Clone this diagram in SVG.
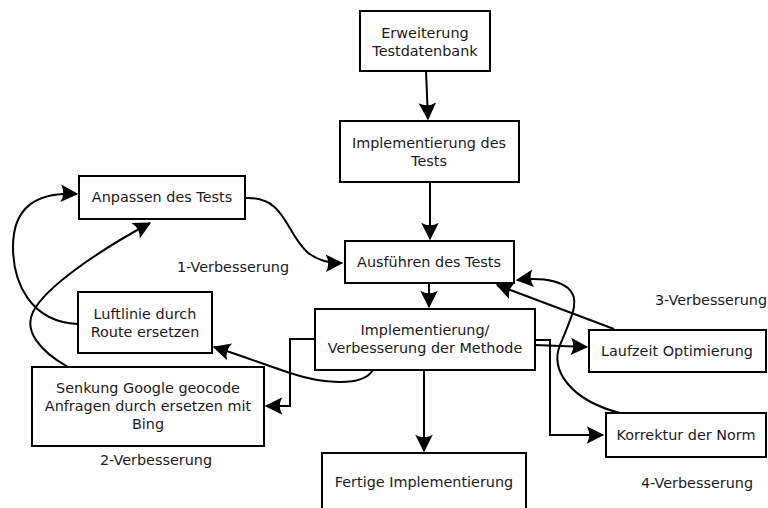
<svg xmlns="http://www.w3.org/2000/svg" width="768" height="508" viewBox="0 0 768 508">
  <style>
    .box rect { fill: #ffffff; stroke: #000000; stroke-width: 2; }
    text { font-family: "DejaVu Sans", "Liberation Sans", sans-serif; font-size: 14.4px; fill: #1a1a1a; text-anchor: middle; }
    .edge { fill: none; stroke: #000000; stroke-width: 2; marker-end: url(#arrow); }
  </style>
  <defs>
    <marker id="arrow" markerUnits="userSpaceOnUse" markerWidth="20" markerHeight="20" viewBox="-14 -8 16 16" refX="0" refY="0" orient="auto">
      <path d="M1,0 L-13,-7 Q-9,0 -13,7 Z" fill="#000000"/>
    </marker>
  </defs>

  <rect width="768" height="508" fill="#ffffff"/>

  <!-- connectors -->
  <g id="connectors">
    <path class="edge" d="M426,71 L428,119"/>
    <path class="edge" d="M430,182 L430,239"/>
    <path class="edge" d="M429,283 L429,307"/>
    <path class="edge" d="M424,370 L424,451"/>
    <path class="edge" d="M246,198 C300,196 280,264 342,263"/>
    <path class="edge" d="M78,324 C30,322 13,282 13,247 C13,208 35,192 77,194"/>
    <path class="edge" d="M68,367 C38,350 24,330 33,312 C45,287 100,250 150,223"/>
    <path class="edge" d="M373,370 C362,388 320,383 290,373 C260,363 240,355 214,347"/>
    <path class="edge" d="M315,339 L290,339 L290,406 L266,406"/>
    <path class="edge" d="M535,345 L587,347"/>
    <path class="edge" d="M535,340 L550,340 L550,435 L603,435"/>
    <path class="edge" d="M614,329 L497,285"/>
    <path class="edge" d="M620,413 C570,400 550,370 560,345 C570,320 582,300 568,288 C555,278 535,278 517,280"/>
  </g>

  <!-- nodes -->
  <g id="erweiterung" class="box">
    <rect x="360" y="11" width="130" height="60"/>
    <text x="425" y="38">Erweiterung</text>
    <text x="425" y="56">Testdatenbank</text>
  </g>
  <g id="implementierung-tests" class="box">
    <rect x="340" y="121" width="179" height="61"/>
    <text x="429" y="148">Implementierung des</text>
    <text x="429" y="166">Tests</text>
  </g>
  <g id="ausfuehren" class="box">
    <rect x="345" y="241" width="169" height="42"/>
    <text x="429" y="267">Ausführen des Tests</text>
  </g>
  <g id="methode" class="box">
    <rect x="315" y="309" width="220" height="61"/>
    <text x="425" y="335">Implementierung/</text>
    <text x="425" y="353">Verbesserung der Methode</text>
  </g>
  <g id="anpassen" class="box">
    <rect x="79" y="176" width="166" height="43"/>
    <text x="162" y="202">Anpassen des Tests</text>
  </g>
  <g id="luftlinie" class="box">
    <rect x="78" y="292" width="134" height="61"/>
    <text x="145" y="319">Luftlinie durch</text>
    <text x="145" y="337">Route ersetzen</text>
  </g>
  <g id="senkung" class="box">
    <rect x="32" y="367" width="232" height="79"/>
    <text x="148" y="393">Senkung Google geocode</text>
    <text x="148" y="411">Anfragen durch ersetzen mit</text>
    <text x="148" y="429">Bing</text>
  </g>
  <g id="laufzeit" class="box">
    <rect x="589" y="330" width="177" height="42"/>
    <text x="677" y="356">Laufzeit Optimierung</text>
  </g>
  <g id="korrektur" class="box">
    <rect x="606" y="413" width="160" height="44"/>
    <text x="686" y="440">Korrektur der Norm</text>
  </g>
  <g id="fertige" class="box">
    <rect x="322" y="453" width="204" height="62"/>
    <text x="424" y="487">Fertige Implementierung</text>
  </g>

  <!-- improvement labels -->
  <g id="labels">
    <text x="233" y="272">1-Verbesserung</text>
    <text x="156" y="465">2-Verbesserung</text>
    <text x="711" y="305">3-Verbesserung</text>
    <text x="697" y="488">4-Verbesserung</text>
  </g>
</svg>
